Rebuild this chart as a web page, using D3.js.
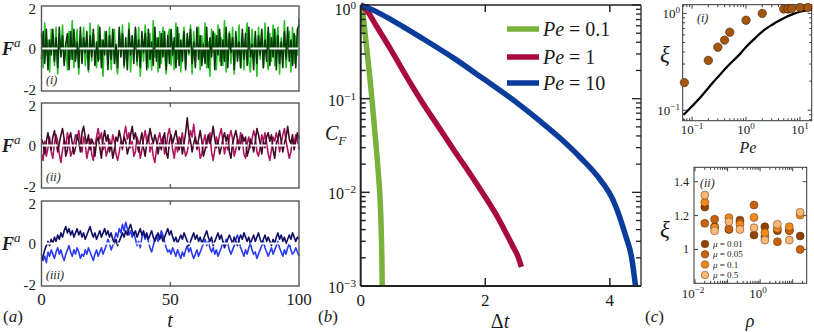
<!DOCTYPE html>
<html>
<head>
<meta charset="utf-8">
<script src="https://cdn.jsdelivr.net/npm/d3@7"></script>
<style>
  body { margin: 0; background: #fff; }
  svg { display: block; }
  text { font-family: "Liberation Serif", "DejaVu Serif", serif; fill: #1a1a1a; }
</style>
</head>
<body>
<div id="chart"></div>
<script>
// ---- panel (a): active force time series, 160 samples over t = 0..100
const tTicks = [0, 50, 100];
const greenLight = [0.7,-0.9,1.2,-0.3,0.4,-1.1,0.9,0.2,-0.8,1.0,-1.2,0.5,-0.2,1.1,-0.7,0.3,-1.0,0.8,-0.5,1.3,
  -0.9,0.1,0.9,-1.2,0.6,-0.4,1.0,-0.8,0.2,-1.1,1.2,-0.6,0.7,-0.1,-0.9,1.1,-0.5,0.4,-1.3,0.8,
  0.3,-0.7,1.0,-1.0,0.5,0.9,-0.6,-1.2,0.8,-0.3,1.1,-0.9,0.2,-0.5,1.2,-1.1,0.6,-0.2,0.9,-0.8,
  1.0,-1.3,0.4,-0.6,1.1,0.1,-0.9,0.7,-1.0,1.3,-0.4,0.5,-1.1,0.8,-0.7,1.0,-0.2,-1.2,0.6,0.9,
  -0.8,0.3,-1.0,1.2,-0.5,0.7,-1.1,0.2,1.0,-0.9,0.5,-0.3,1.1,-1.2,0.8,-0.6,0.4,1.0,-1.0,0.6,
  -0.4,1.2,-0.9,0.3,-1.3,0.9,-0.2,0.7,-1.0,1.1,-0.6,0.5,-0.8,1.3,-1.1,0.2,0.8,-0.7,1.0,-1.2,
  0.5,-0.3,1.1,-0.9,0.7,-1.0,0.4,1.2,-0.6,-1.1,0.9,-0.2,0.6,-1.3,1.0,-0.5,0.8,-0.9,1.2,-0.4,
  -1.0,0.7,-0.6,1.1,-0.8,0.3,1.0,-1.2,0.5,-0.4,1.3,-0.9,0.2,0.8,-1.1,1.0,-0.7,0.6,-0.3,1.4];
const greenDark = [-0.5,0.8,-0.7,0.9,-1.0,0.4,-0.3,0.9,-0.6,0.5,-0.9,1.0,-0.4,0.6,-0.8,0.2,0.7,-1.0,0.8,-0.5,
  0.9,-0.6,0.3,-0.9,1.0,-0.7,0.5,-0.2,0.8,-1.0,0.6,-0.4,0.9,-0.8,0.3,-0.6,1.0,-0.9,0.4,-0.3,
  0.8,-1.0,0.6,-0.5,0.9,-0.7,0.2,-0.9,1.0,-0.4,0.7,-0.8,0.5,-1.0,0.9,-0.3,0.6,-0.7,1.0,-0.6,
  0.4,-0.9,0.8,-0.2,0.7,-1.0,0.9,-0.5,0.3,-0.8,1.0,-0.6,0.5,-0.9,0.7,-0.4,0.8,-1.0,0.6,-0.7,
  0.9,-0.3,0.5,-0.9,1.0,-0.8,0.4,-0.6,0.8,-1.0,0.7,-0.2,0.9,-0.7,0.3,-0.9,1.0,-0.5,0.6,-0.8,
  0.2,-0.7,1.0,-0.9,0.5,-0.4,0.8,-1.0,0.6,-0.3,0.9,-0.8,0.4,-0.6,1.0,-0.9,0.7,-0.2,0.5,-1.0,
  0.8,-0.6,0.3,-0.9,0.9,-0.5,0.7,-0.8,1.0,-0.4,0.2,-1.0,0.8,-0.7,0.6,-0.3,0.9,-0.9,0.4,-0.6,
  1.0,-0.8,0.5,-0.4,0.9,-1.0,0.6,-0.7,0.3,-0.9,0.8,-0.5,1.0,-0.6,0.4,-0.8,0.7,-0.9,0.9,1.1];
const magLight = [-0.4,-0.7,0.2,-0.5,-0.1,0.4,-0.3,-0.6,0.1,0.5,0.2,-0.4,-0.8,-0.2,0.3,-0.1,0.6,0.2,-0.5,-0.3,
  0.1,0.5,0.3,0.7,0.2,-0.3,0.4,0.1,-0.6,-0.2,0.3,-0.4,-0.7,0.0,0.4,0.8,0.3,0.6,-0.2,0.1,
  -0.5,-0.2,0.3,-0.1,0.5,0.2,-0.4,-0.7,-0.3,0.2,-0.2,0.5,0.9,0.3,0.6,-0.1,0.2,-0.5,-0.3,0.4,
  0.1,-0.6,-0.2,0.3,0.7,0.2,0.5,-0.3,0.1,-0.5,-0.8,-0.2,0.3,0.6,0.1,0.4,-0.4,-0.1,0.5,0.8,
  0.3,-0.2,-0.6,0.1,-0.3,0.4,0.2,0.6,-0.1,-0.5,-0.3,0.2,0.7,0.4,1.0,0.3,-0.2,0.1,-0.6,-0.4,
  0.2,0.5,-0.1,0.3,0.6,-0.3,-0.7,-0.2,0.4,0.1,0.5,0.8,0.2,-0.4,0.1,-0.2,0.4,0.7,0.3,-0.5,
  -0.2,0.3,0.1,0.6,0.2,-0.4,-0.6,0.1,0.4,-0.1,0.3,0.7,0.4,-0.3,-0.5,-0.1,0.5,0.2,0.6,0.1,
  -0.4,-0.7,-0.2,0.4,0.2,0.6,0.3,-0.3,0.1,0.5,0.8,0.2,-0.2,-0.6,-0.3,0.3,0.1,0.5,0.3,-0.2];
const magDark = [0.3,0.1,-0.4,0.2,0.6,0.1,-0.2,0.4,0.7,0.2,-0.3,0.1,0.5,0.8,0.3,-0.5,-0.2,0.3,0.6,0.1,
  -0.4,-0.1,0.5,0.2,-0.3,0.6,0.9,0.4,0.1,0.5,-0.2,0.3,0.1,-0.5,0.2,0.4,-0.1,-0.6,0.3,0.7,
  0.2,0.5,-0.3,0.1,-0.6,-0.2,0.4,0.2,0.7,0.3,-0.1,0.4,0.2,-0.4,-0.1,0.5,0.9,0.3,0.6,0.1,
  -0.3,0.2,0.6,-0.1,-0.5,0.1,0.3,0.8,0.4,0.1,0.5,0.2,-0.4,0.1,-0.2,0.3,0.6,-0.3,-0.6,0.2,
  0.5,0.1,0.4,0.7,0.2,-0.2,0.3,-0.4,0.1,0.6,1.3,0.5,0.2,-0.3,0.1,0.4,-0.1,0.3,0.7,0.2,
  -0.5,-0.2,0.2,0.5,0.1,0.4,0.9,0.3,-0.1,0.2,-0.4,-0.1,0.3,0.6,0.2,0.5,-0.3,-0.6,0.1,0.4,
  0.7,0.3,-0.2,0.1,0.5,0.2,0.4,-0.5,-0.2,0.3,0.1,-0.3,0.2,0.8,0.5,0.1,-0.4,0.2,-0.1,0.4,
  0.6,0.2,0.5,-0.2,-0.6,0.1,0.3,0.7,0.2,-0.3,0.1,0.4,0.9,0.3,0.1,0.5,-0.2,0.2,0.6,0.3];
const blueLight = [-0.5,-0.8,-0.6,-0.9,-0.4,-0.6,-0.3,-0.5,-0.7,-0.4,-0.2,-0.5,-0.3,-0.6,-0.8,-0.5,-0.3,-0.1,-0.4,-0.6,
  -0.3,-0.5,-0.2,-0.4,-0.7,-0.5,-0.6,-0.3,-0.5,-0.2,-0.4,-0.6,-0.8,-0.5,-0.3,-0.6,-0.4,-0.2,-0.5,-0.3,
  -0.1,0.2,0.0,-0.3,-0.1,0.2,0.5,0.3,0.7,0.5,0.9,0.6,1.0,0.7,0.4,0.6,0.3,0.5,0.2,-0.1,
  0.1,-0.2,0.3,0.5,0.2,0.4,0.1,-0.2,-0.4,-0.1,0.2,0.4,0.1,0.3,0.6,0.4,0.1,-0.2,-0.4,-0.3,
  -0.5,-0.2,-0.4,-0.6,-0.3,-0.5,-0.7,-0.4,-0.6,-0.3,-0.1,-0.4,-0.2,-0.5,-0.7,-0.5,-0.3,-0.6,-0.4,-0.2,
  0.0,0.2,-0.1,0.1,-0.2,-0.4,-0.2,-0.5,-0.3,-0.6,-0.4,-0.2,0.1,-0.1,0.2,0.0,-0.3,-0.5,-0.3,-0.1,
  0.2,0.4,0.1,-0.2,-0.4,-0.6,-0.3,-0.5,-0.2,0.0,-0.3,-0.5,-0.4,-0.7,-0.5,-0.3,-0.1,0.1,-0.2,-0.4,
  -0.6,-0.4,-0.2,-0.5,-0.3,-0.1,0.1,-0.2,-0.4,-0.6,-0.3,-0.5,-0.2,0.0,-0.3,-0.5,-0.4,-0.2,-0.4,-0.6];
const blueDark = [-0.8,-0.6,-0.3,-0.1,0.1,-0.1,0.2,0.0,0.3,0.1,0.4,0.2,0.5,0.3,0.6,0.8,0.5,0.7,0.4,0.6,
  0.3,0.5,0.7,0.4,0.6,0.3,0.5,0.2,0.4,0.6,0.8,0.5,0.3,0.5,0.2,0.4,0.6,0.3,0.5,0.7,
  0.4,0.6,0.3,0.5,0.2,0.0,0.2,-0.1,0.1,0.3,0.5,0.3,0.6,0.4,0.7,0.9,0.6,0.4,0.6,0.3,
  0.5,0.7,0.4,0.6,0.3,0.5,0.2,0.4,0.6,0.3,0.1,0.3,0.5,0.2,0.4,0.1,0.3,0.5,0.7,0.4,
  0.6,0.3,0.1,0.3,0.0,0.2,0.4,0.2,0.5,0.3,0.1,-0.1,0.1,0.3,0.5,0.2,0.4,0.1,0.3,0.0,
  0.2,0.4,0.6,0.3,0.1,0.3,-0.1,0.1,0.3,0.5,0.2,0.4,0.1,-0.2,0.0,0.2,0.4,0.2,0.0,0.3,
  0.1,-0.1,0.2,0.4,0.2,0.5,0.3,0.1,0.3,0.0,0.2,0.4,0.1,0.3,0.5,0.2,0.0,0.2,0.4,0.1,
  0.3,0.1,-0.1,0.2,0.0,0.3,0.5,0.2,0.4,0.1,0.3,0.0,0.2,0.4,0.2,0.5,0.3,0.1,0.3,0.2];

// ---- panel (b): force autocorrelation C_F(dt)
const peLabels = ["0.1", "1", "10"];
const dtGreen = [0, 0.02, 0.06, 0.1, 0.14, 0.18, 0.22, 0.26, 0.29, 0.31, 0.325, 0.335, 0.342, 0.346];
const cfGreen = [1, 0.93, 0.575, 0.33, 0.186, 0.1, 0.05, 0.025, 0.014, 0.0089, 0.005, 0.0028, 0.0016, 0.0009];
const dtMag = [0, 0.1, 0.25, 0.5, 0.75, 1.0, 1.25, 1.5, 1.75, 2.0, 2.2, 2.35, 2.45, 2.52, 2.58];
const cfMag = [1, 0.87, 0.6, 0.32, 0.166, 0.089, 0.05, 0.028, 0.016, 0.0089, 0.0054, 0.0035, 0.0026, 0.0021, 0.0016];
const dtBlue = [0, 0.25, 0.5, 1.0, 1.5, 1.93, 2.5, 2.88, 3.2, 3.53, 3.85, 4.05, 4.25, 4.35, 4.42];
const cfBlue = [1, 0.85, 0.69, 0.436, 0.269, 0.17, 0.0912, 0.0575, 0.038, 0.0234, 0.0135, 0.0083, 0.0035, 0.002, 0.0009];

// ---- panel (c)(i): xi vs Pe
const peCurve = [0.07, 0.1, 0.15, 0.2, 0.3, 0.5, 0.7, 1, 1.5, 2, 3, 5, 7, 10, 16.5];
const xiCurve = [0.09, 0.11, 0.14, 0.17, 0.22, 0.3, 0.36, 0.45, 0.56, 0.65, 0.76, 0.89, 0.97, 1.04, 1.1];
const pePts = [0.072, 0.2, 0.3, 0.4, 0.5, 1, 2, 5, 6, 7, 10, 14];
const xiPts = [0.193, 0.327, 0.448, 0.53, 0.64, 0.85, 1.0, 1.11, 1.11, 1.12, 1.15, 1.15];

// ---- panel (c)(ii): xi vs rho for several mu
const rhoVals = [0.02, 0.04, 0.11, 0.24, 0.65, 1.4, 3.4, 7.9, 17];
const muLabels = ["0.01", "0.05", "0.1", "0.5"];
const xiMu001 = [1.25, 1.134, 1.118, 1.173, 1.085, 1.134, 1.11, 1.114, 1.079];
const xiMu005 = [1.154, 1.178, 1.12, 1.16, 1.262, 1.075, 1.045, 1.11, 1.0];
const xiMu01 = [1.278, 1.13, 1.187, 1.148, 1.189, 1.098, 1.124, 1.134, 1.203];
const xiMu05 = [1.321, 1.11, 1.163, 1.118, 1.128, 1.055, 1.148, 1.055, 1.219];

const svg = d3.select("#chart").append("svg").attr("width", 814).attr("height", 332);

// superscript power-of-ten label
function powLabel(sel, x, y, e, fs, anchor) {
  const t = sel.append("text").attr("x", x).attr("y", y)
    .attr("font-size", fs).attr("text-anchor", anchor);
  t.append("tspan").text("10");
  t.append("tspan").attr("dy", -fs * 0.38).attr("font-size", fs * 0.7).text(e);
  return t;
}

function frame(g, x0, x1, y0, y1, color, w) {
  g.append("rect").attr("x", x0).attr("y", y0).attr("width", x1 - x0).attr("height", y1 - y0)
    .attr("fill", "none").attr("stroke", color).attr("stroke-width", w);
}

function panelTag(x, y, letter) {
  const t = svg.append("text").attr("x", x).attr("y", y).attr("font-size", 17);
  t.append("tspan").text("(");
  t.append("tspan").attr("font-style", "italic").text(letter);
  t.append("tspan").text(")");
}

// ================= panel (a) =================
const nA = greenLight.length;
const tA = d3.range(nA).map(i => i * 100 / (nA - 1));
const xA = d3.scaleLinear().domain([0, 100]).range([41.5, 299]);

const rowsA = [
  { top: 6, bot: 91, light: greenLight, dark: greenDark, cl: "#27c227", cd: "#0a3a0a", tag: "(i)" },
  { top: 103, bot: 188, light: magLight, dark: magDark, cl: "#b01660", cd: "#420a26", tag: "(ii)" },
  { top: 201, bot: 286, light: blueLight, dark: blueDark, cl: "#2c3cf5", cd: "#10106a", tag: "(iii)" }
];

rowsA.forEach(r => {
  const y = d3.scaleLinear().domain([-2, 2]).range([r.bot, r.top]);
  const g = svg.append("g");
  const line = d3.line().x((d, i) => xA(tA[i])).y(d => y(d));
  g.append("path").datum(r.light).attr("d", line).attr("fill", "none")
    .attr("stroke", r.cl).attr("stroke-width", 1.6).attr("stroke-linejoin", "round");
  g.append("path").datum(r.dark).attr("d", line).attr("fill", "none")
    .attr("stroke", r.cd).attr("stroke-width", 1.6).attr("stroke-linejoin", "round");
  g.append("line").attr("x1", xA(0)).attr("x2", xA(100)).attr("y1", y(0)).attr("y2", y(0))
    .attr("stroke", "#fff").attr("stroke-width", 2.2).attr("stroke-dasharray", "16,3");
  frame(g, xA(0), xA(100), r.top, r.bot, "#555", 1.4);
  // ticks at t = 50 on top and bottom
  g.append("line").attr("x1", xA(50)).attr("x2", xA(50)).attr("y1", r.top).attr("y2", r.top + 4).attr("stroke", "#333");
  g.append("line").attr("x1", xA(50)).attr("x2", xA(50)).attr("y1", r.bot).attr("y2", r.bot - 4).attr("stroke", "#333");
  [2, 0, -2].forEach(v => {
    const dy = v > 0 ? 7.5 : (v < 0 ? 3.5 : 5.5);
    g.append("text").attr("x", 36).attr("y", y(v) + dy).attr("text-anchor", "end")
      .attr("font-size", 15).text(v < 0 ? "-" + Math.abs(v) : v);
  });
  const fl = g.append("text").attr("x", 2).attr("y", y(0) + 6).attr("font-size", 18);
  fl.append("tspan").attr("font-weight", "bold").attr("font-style", "italic").text("F");
  fl.append("tspan").attr("dy", -8).attr("font-size", 13).attr("font-style", "italic").text("a");
  g.append("text").attr("x", 46).attr("y", r.bot - 7).attr("font-size", 12)
    .attr("font-style", "italic").text(r.tag);
});

tTicks.forEach(v => {
  svg.append("text").attr("x", xA(v)).attr("y", 305).attr("text-anchor", "middle")
    .attr("font-size", 17).text(v);
});
svg.append("text").attr("x", 170).attr("y", 327).attr("text-anchor", "middle")
  .attr("font-size", 20).attr("font-style", "italic").text("t");
panelTag(3, 322, "a");

// ================= panel (b) =================
const xB = d3.scaleLinear().domain([0, 4.5]).range([360.7, 641]);
const yB = d3.scaleLog().domain([1e-3, 1]).range([286, 5]);
const gB = svg.append("g");
gB.append("clipPath").attr("id", "clipB").append("rect")
  .attr("x", 360.7).attr("y", 0).attr("width", 280.3).attr("height", 286);

const seriesB = [
  { dt: dtGreen, cf: cfGreen, color: "#79b23a" },
  { dt: dtMag, cf: cfMag, color: "#a80a40" },
  { dt: dtBlue, cf: cfBlue, color: "#0a3c9c" }
];
seriesB.forEach(s => {
  const line = d3.line().curve(d3.curveMonotoneX)
    .x((d, i) => xB(s.dt[i])).y(d => yB(d));
  gB.append("path").datum(s.cf).attr("d", line).attr("fill", "none")
    .attr("stroke", s.color).attr("stroke-width", 5.5).attr("clip-path", "url(#clipB)");
});

// axes box and ticks
gB.append("line").attr("x1", 641).attr("x2", 641).attr("y1", 5).attr("y2", 286).attr("stroke", "#222").attr("stroke-width", 1.3);
gB.append("line").attr("x1", 360.7).attr("x2", 641).attr("y1", 5).attr("y2", 5).attr("stroke", "#222").attr("stroke-width", 1.3);
gB.append("line").attr("x1", 360.7).attr("x2", 360.7).attr("y1", 5).attr("y2", 286).attr("stroke", "#222").attr("stroke-width", 2);
gB.append("line").attr("x1", 360.7).attr("x2", 641).attr("y1", 286).attr("y2", 286).attr("stroke", "#222").attr("stroke-width", 2);
yB.ticks().forEach(v => {
  const major = Math.abs(Math.log10(v) - Math.round(Math.log10(v))) < 1e-6;
  const len = major ? 9 : 5;
  gB.append("line").attr("x1", 360.7).attr("x2", 360.7 + len).attr("y1", yB(v)).attr("y2", yB(v)).attr("stroke", "#222").attr("stroke-width", 1.5);
  gB.append("line").attr("x1", 641).attr("x2", 641 - len).attr("y1", yB(v)).attr("y2", yB(v)).attr("stroke", "#222").attr("stroke-width", 1.3);
  if (major) {
    const e = Math.round(Math.log10(v));
    powLabel(gB, 356, yB(v) + (e === 0 ? 10 : 7), e === 0 ? "0" : "\u2212" + Math.abs(e), 16, "end");
  }
});
[0, 2, 4].forEach(v => {
  if (v > 0) {
    gB.append("line").attr("x1", xB(v)).attr("x2", xB(v)).attr("y1", 286).attr("y2", 278).attr("stroke", "#222").attr("stroke-width", 1.5);
    gB.append("line").attr("x1", xB(v)).attr("x2", xB(v)).attr("y1", 5).attr("y2", 12).attr("stroke", "#222").attr("stroke-width", 1.5);
  }
  gB.append("text").attr("x", xB(v)).attr("y", 306).attr("text-anchor", "middle").attr("font-size", 17).text(v);
});
const dl = gB.append("text").attr("x", 500).attr("y", 328).attr("text-anchor", "middle").attr("font-size", 20);
dl.append("tspan").text("\u0394");
dl.append("tspan").attr("font-style", "italic").text("t");
const cl = gB.append("text").attr("x", 325).attr("y", 140).attr("font-size", 20);
cl.append("tspan").attr("font-style", "italic").text("C");
cl.append("tspan").attr("dy", 5).attr("font-size", 13).attr("font-style", "italic").text("F");
panelTag(318, 322, "b");

// legend
seriesB.forEach((s, i) => {
  const ly = [29, 57, 83][i];
  gB.append("line").attr("x1", 507).attr("x2", 539).attr("y1", ly).attr("y2", ly)
    .attr("stroke", s.color).attr("stroke-width", 5.5);
  const t = gB.append("text").attr("x", 543).attr("y", ly + 7).attr("font-size", 20);
  t.append("tspan").attr("font-style", "italic").text("Pe");
  t.append("tspan").text(" = " + peLabels[i]);
});

// ================= panel (c)(i) =================
const xC1 = d3.scaleLog().domain([0.067, 16.5]).range([682.7, 811.7]);
const yC1 = d3.scaleLog().domain([0.078, 1.23]).range([120.7, 4.7]);
const gC1 = svg.append("g");
frame(gC1, 682.7, 811.7, 4.7, 120.7, "#333", 1);
xC1.ticks().forEach(v => {
  const major = Math.abs(Math.log10(v) - Math.round(Math.log10(v))) < 1e-6;
  const len = major ? 4 : 2.5;
  gC1.append("line").attr("x1", xC1(v)).attr("x2", xC1(v)).attr("y1", 120.7).attr("y2", 120.7 - len).attr("stroke", "#444");
  gC1.append("line").attr("x1", xC1(v)).attr("x2", xC1(v)).attr("y1", 4.7).attr("y2", 4.7 + len).attr("stroke", "#444");
  if (major) {
    const e = Math.round(Math.log10(v));
    powLabel(gC1, xC1(v), 134, e < 0 ? "\u2212" + Math.abs(e) : String(e), 13, "middle");
  }
});
yC1.ticks().forEach(v => {
  const major = Math.abs(Math.log10(v) - Math.round(Math.log10(v))) < 1e-6;
  const len = major ? 4 : 2.5;
  gC1.append("line").attr("x1", 682.7).attr("x2", 682.7 + len).attr("y1", yC1(v)).attr("y2", yC1(v)).attr("stroke", "#444");
  gC1.append("line").attr("x1", 811.7).attr("x2", 811.7 - len).attr("y1", yC1(v)).attr("y2", yC1(v)).attr("stroke", "#444");
  if (major) {
    const e = Math.round(Math.log10(v));
    powLabel(gC1, 680, yC1(v) + 5, e < 0 ? "\u2212" + Math.abs(e) : String(e), 13, "end");
  }
});
gC1.append("path").datum(xiCurve)
  .attr("d", d3.line().curve(d3.curveMonotoneX).x((d, i) => xC1(peCurve[i])).y(d => yC1(d)))
  .attr("fill", "none").attr("stroke", "#000").attr("stroke-width", 2.3);
gC1.selectAll("circle").data(xiPts).join("circle")
  .attr("cx", (d, i) => xC1(pePts[i])).attr("cy", d => yC1(d)).attr("r", 4.2)
  .attr("fill", "#a5560e").attr("stroke", "#3a1e05").attr("stroke-width", 0.6);
gC1.append("text").attr("x", 697).attr("y", 22).attr("font-size", 12).attr("font-style", "italic").text("(i)");
gC1.append("text").attr("x", 665).attr("y", 62).attr("text-anchor", "middle").attr("font-size", 23)
  .attr("font-style", "italic").text("\u03be");
gC1.append("text").attr("x", 748).attr("y", 153).attr("text-anchor", "middle").attr("font-size", 16)
  .attr("font-style", "italic").text("Pe");

// ================= panel (c)(ii) =================
const xC2 = d3.scaleLog().domain([0.0093, 27]).range([694, 806.7]);
const yC2 = d3.scaleLinear().domain([0.8, 1.485]).range([283.3, 167.3]);
const gC2 = svg.append("g");
frame(gC2, 694, 806.7, 167.3, 283.3, "#333", 1);
xC2.ticks().forEach(v => {
  const lg = Math.log10(v);
  const major = Math.abs(lg - Math.round(lg)) < 1e-6;
  const len = major ? 4 : 2.5;
  gC2.append("line").attr("x1", xC2(v)).attr("x2", xC2(v)).attr("y1", 283.3).attr("y2", 283.3 - len).attr("stroke", "#444");
  gC2.append("line").attr("x1", xC2(v)).attr("x2", xC2(v)).attr("y1", 167.3).attr("y2", 167.3 + len).attr("stroke", "#444");
  if (major && Math.round(lg) % 2 === 0) {
    const e = Math.round(lg);
    powLabel(gC2, xC2(v) - 2, 298, e < 0 ? "\u2212" + Math.abs(e) : String(e), 13, "middle");
  }
});
[1, 1.2, 1.4].forEach(v => {
  gC2.append("line").attr("x1", 694).attr("x2", 698).attr("y1", yC2(v)).attr("y2", yC2(v)).attr("stroke", "#444");
  gC2.append("line").attr("x1", 806.7).attr("x2", 802.7).attr("y1", yC2(v)).attr("y2", yC2(v)).attr("stroke", "#444");
  gC2.append("text").attr("x", 689).attr("y", yC2(v) + 4).attr("text-anchor", "end").attr("font-size", 12).text(v);
});
const muSeries = [
  { xi: xiMu001, color: "#8f4206" },
  { xi: xiMu005, color: "#c9620c" },
  { xi: xiMu01, color: "#f18a1c" },
  { xi: xiMu05, color: "#fbb874" }
];
muSeries.forEach((s, k) => {
  gC2.append("g").selectAll("circle").data(s.xi).join("circle")
    .attr("cx", (d, i) => xC2(rhoVals[i])).attr("cy", d => yC2(d)).attr("r", 4)
    .attr("fill", s.color).attr("stroke", "#5a3210").attr("stroke-width", 0.5);
  const ly = [244, 254.3, 264.5, 275][k];
  gC2.append("circle").attr("cx", 705).attr("cy", ly).attr("r", 3.8)
    .attr("fill", s.color).attr("stroke", "#5a3210").attr("stroke-width", 0.5);
  const t = gC2.append("text").attr("x", 713).attr("y", ly + 3).attr("font-size", 9);
  t.append("tspan").attr("font-style", "italic").text("\u03bc");
  t.append("tspan").text(" = " + muLabels[k]);
});
gC2.append("text").attr("x", 700).attr("y", 187).attr("font-size", 12).attr("font-style", "italic").text("(ii)");
gC2.append("text").attr("x", 665).attr("y", 237).attr("text-anchor", "middle").attr("font-size", 23)
  .attr("font-style", "italic").text("\u03be");
gC2.append("text").attr("x", 750).attr("y", 327).attr("text-anchor", "middle").attr("font-size", 18)
  .attr("font-style", "italic").text("\u03c1");
panelTag(645, 322, "c");
</script>
</body>
</html>
